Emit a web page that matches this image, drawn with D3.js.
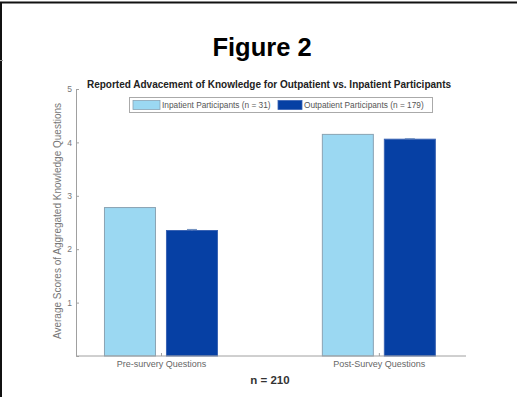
<!DOCTYPE html>
<html>
<head>
<meta charset="utf-8">
<script src="https://cdn.jsdelivr.net/npm/d3@7"></script>
<style>
  html, body { margin: 0; padding: 0; background: #fff; }
  svg { display: block; }
  text { font-family: "Liberation Sans", Arial, sans-serif; }
</style>
</head>
<body>
<svg id="chart" width="517" height="397"></svg>
<script>
// Survey groups along the x axis
const categories = ["Pre-survery Questions", "Post-Survey Questions"];
// Participant groups (series)
const seriesNames = ["Inpatient Participants (n = 31)", "Outpatient Participants (n = 179)"];
// Average aggregated knowledge scores per category
const inpatientScores = [2.78, 4.15];
const outpatientScores = [2.35, 4.06];
// Small spread shown on top of each bar
const inpatientErrors = [0, 0];
const outpatientErrors = [0.02, 0.01];
const yTicks = [1, 2, 3, 4, 5];

const seriesColors = ["#9bd8f2", "#0640a4"];
const seriesStroke = ["#8aa3b3", "#3a63b3"];

const svg = d3.select("#chart");

// Page frame
svg.append("line").attr("x1", 0).attr("x2", 517).attr("y1", 2.5).attr("y2", 2.5)
  .attr("stroke", "#111").attr("stroke-width", 2);
svg.append("line").attr("x1", 1).attr("x2", 1).attr("y1", 2).attr("y2", 397)
  .attr("stroke", "#111").attr("stroke-width", 2);
svg.append("line").attr("x1", 0).attr("x2", 3).attr("y1", 60.5).attr("y2", 60.5)
  .attr("stroke", "#999").attr("stroke-width", 1);

// Heading
svg.append("text").attr("x", 262).attr("y", 56).attr("text-anchor", "middle")
  .attr("font-size", 25.5).attr("font-weight", "bold").attr("fill", "#000")
  .text("Figure 2");

const x = d3.scaleLinear().domain([0.61, 2.40]).range([76, 466]);
const y = d3.scaleLinear().domain([0, 5]).range([356, 89]);

const barW = 51;
const offset = 31;

const series = [
  { name: seriesNames[0], values: inpatientScores, errors: inpatientErrors, color: seriesColors[0], stroke: seriesStroke[0], dx: -offset },
  { name: seriesNames[1], values: outpatientScores, errors: outpatientErrors, color: seriesColors[1], stroke: seriesStroke[1], dx: offset }
];

// Bars
series.forEach(s => {
  svg.append("g").selectAll("rect").data(s.values).join("rect")
    .attr("x", (d, i) => x(i + 1) + s.dx - barW / 2)
    .attr("y", d => y(d))
    .attr("width", barW)
    .attr("height", d => y(0) - y(d))
    .attr("fill", s.color)
    .attr("stroke", s.stroke)
    .attr("stroke-width", 1);
  // error marks
  const eg = svg.append("g").attr("stroke", "#6f8fbf").attr("stroke-width", 1);
  s.values.forEach((v, i) => {
    if (s.errors[i] <= 0) return;
    const cx = x(i + 1) + s.dx;
    eg.append("line").attr("x1", cx).attr("x2", cx).attr("y1", y(v)).attr("y2", y(v + s.errors[i]));
    eg.append("line").attr("x1", cx - 5).attr("x2", cx + 5).attr("y1", y(v + s.errors[i])).attr("y2", y(v + s.errors[i]));
  });
});

// Y axis
const yAxis = d3.axisLeft(y).tickValues(yTicks).tickFormat(d3.format("d")).tickSize(-3).tickPadding(4);
const gy = svg.append("g").attr("transform", "translate(76,0)").call(yAxis);
gy.select(".domain").attr("stroke", "#a0a0a0");
gy.selectAll(".tick line").attr("stroke", "#a0a0a0");
gy.selectAll(".tick text").attr("fill", "#777").attr("font-size", 8.5)
  .attr("font-family", "Liberation Sans, Arial, sans-serif");

// X axis
const xAxis = d3.axisBottom(x).tickValues([1, 2]).tickFormat((d) => categories[d - 1])
  .tickSize(-3).tickPadding(5);
const gx = svg.append("g").attr("transform", "translate(0,356)").call(xAxis);
gx.select(".domain").attr("stroke", "#a0a0a0").attr("d", "M76,0H466");
gx.selectAll(".tick line").attr("stroke", "#a0a0a0");
gx.selectAll(".tick text").attr("fill", "#666").attr("font-size", 9)
  .attr("font-family", "Liberation Sans, Arial, sans-serif");

// Y axis title
svg.append("text")
  .attr("transform", "translate(61,221) rotate(-90)")
  .attr("text-anchor", "middle").attr("font-size", 10).attr("fill", "#777")
  .text("Average Scores of Aggregated Knowledge Questions");

// Chart title
svg.append("text").attr("x", 269).attr("y", 88).attr("text-anchor", "middle")
  .attr("font-size", 10).attr("font-weight", "bold").attr("fill", "#222")
  .text("Reported Advacement of Knowledge for Outpatient vs. Inpatient Participants");

// Sample size note
svg.append("text").attr("x", 270).attr("y", 384).attr("text-anchor", "middle")
  .attr("font-size", 11.5).attr("font-weight", "bold").attr("fill", "#333")
  .text("n = 210");

// Legend
const lg = svg.append("g");
lg.append("rect").attr("x", 129.5).attr("y", 97.5).attr("width", 303).attr("height", 15)
  .attr("fill", "#fff").attr("stroke", "#aaa").attr("stroke-width", 1);
const legendItems = [
  { x: 133, w: 27, tx: 162 },
  { x: 278, w: 24, tx: 304 }
];
series.forEach((s, i) => {
  const it = legendItems[i];
  lg.append("rect").attr("x", it.x).attr("y", 100.5).attr("width", it.w).attr("height", 9)
    .attr("fill", s.color).attr("stroke", s.stroke).attr("stroke-width", 0.8);
  lg.append("text").attr("x", it.tx).attr("y", 108.3).attr("font-size", 8.3).attr("fill", "#555")
    .text(s.name);
});
</script>
</body>
</html>
